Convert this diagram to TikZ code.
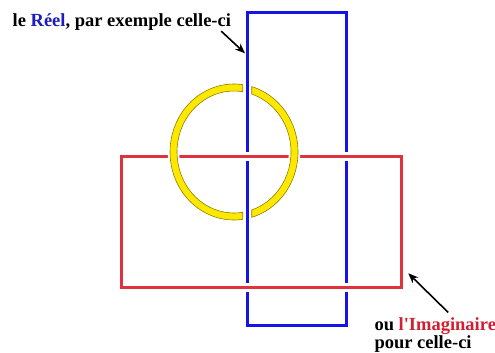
\documentclass[tikz,border=0pt]{standalone}
\usepackage{fontspec}
\setmainfont{Liberation Serif}[Ligatures=TeXOff]
\usepackage{xcolor}
\usetikzlibrary{arrows.meta}
\definecolor{knotBlue}{HTML}{1414E6}
\definecolor{knotRed}{HTML}{E0323C}
\definecolor{knotYellow}{HTML}{FFE800}
\definecolor{ringEdge}{HTML}{8C8200}
\definecolor{textBlue}{HTML}{1C1CC0}
\definecolor{textRed}{HTML}{D02032}

\tikzset{
  bluebar/.style={draw=knotBlue, line width=3pt},
  redbar/.style={draw=knotRed, line width=3pt, preaction={draw=white, line width=9pt}},
  ringpiece/.style={fill=knotYellow, draw=ringEdge, line width=0.6pt, preaction={draw=white, line width=4.5pt}},
  remark/.style={font=\fontsize{18.5}{20}\selectfont\bfseries, inner sep=0pt},
  pointer/.style={-{Stealth[length=10pt, width=8pt]}, line width=1.6pt}
}

\begin{document}
\begin{tikzpicture}[x=1pt, y=-1pt]
  \useasboundingbox (0,0) rectangle (495,353);

  % Texts
  \node[remark, anchor=base west] (reel) at (12.5,27) {le \textcolor{textBlue}{Réel}, par exemple celle-ci};
  \node[remark, anchor=base west] (imag) at (374.3,330.5) {ou \textcolor{textRed}{l'Imaginaire}};
  \node[remark, anchor=base west] (imag2) at (374.3,348.5) {pour celle-ci};

  % Blue rectangle (under the red one)
  \draw[bluebar] (247.5,13) rectangle (346,325);

  % Red rectangle (over the blue one)
  \draw[redbar] (121,156.5) rectangle (401.5,287.5);

  % Yellow ring, cut where the blue passes over it
  \coordinate (ringc) at (234,152);
  \path[ringpiece] ([shift={(ringc)}]-73.9:64 and 68)
    arc[start angle=-73.9, end angle=73.9, x radius=64, y radius=68]
    -- ([shift={(ringc)}]71.9:57 and 61)
    arc[start angle=71.9, end angle=-71.9, x radius=57, y radius=61] -- cycle;
  \path[ringpiece] ([shift={(ringc)}]82.2:64 and 68)
    arc[start angle=82.2, end angle=277.8, x radius=64, y radius=68]
    -- ([shift={(ringc)}]278.8:57 and 61)
    arc[start angle=278.8, end angle=81.2, x radius=57, y radius=61] -- cycle;

  % Arrows
  \coordinate (reelpt) at (245,53.3);
  \coordinate (imagpt) at (408.3,273.3);
  \draw[pointer] ([xshift=-10pt]reel.south east) -- (reelpt);
  \draw[pointer] ([xshift=13pt,yshift=5pt]imag.north) -- (imagpt);
\end{tikzpicture}
\end{document}
